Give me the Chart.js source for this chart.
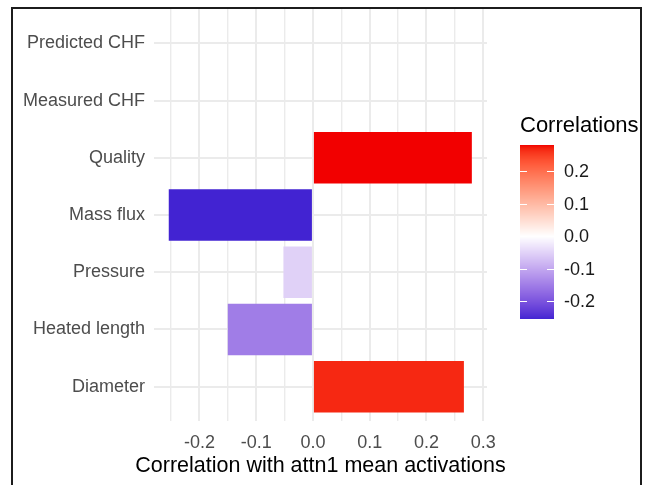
<!DOCTYPE html>
<html>
<head>
<meta charset="utf-8">
<script src="https://cdn.jsdelivr.net/npm/chart.js@4.4.1/dist/chart.umd.min.js"></script>
<style>
  html, body { margin: 0; padding: 0; background: #ffffff; overflow: hidden; }
  #wrap { position: relative; width: 647px; height: 485px; }
  #frame { position: absolute; left: 11px; top: 7px; width: 627px; height: 520px;
           border-left: 2px solid #1c1c1c; border-top: 2px solid #1c1c1c; border-right: 2px solid #1c1c1c; pointer-events: none; }
  canvas { position: absolute; left: 0; top: 0; }
</style>
</head>
<body>
<div id="wrap">
  <canvas id="c" width="647" height="485"></canvas>
  <div id="frame"></div>
</div>
<script>
// ---- data ----
const categories = ['Predicted CHF', 'Measured CHF', 'Quality', 'Mass flux', 'Pressure', 'Heated length', 'Diameter'];
const correlations = [null, null, 0.280, -0.254, -0.052, -0.150, 0.266];
const xTickValues = [-0.2, -0.1, 0.0, 0.1, 0.2, 0.3];
const xMinorValues = [-0.25, -0.15, -0.05, 0.05, 0.15, 0.25];
const legendTickValues = [0.2, 0.1, 0.0, -0.1, -0.2];
const legendTitle = 'Correlations';
const xAxisTitle = 'Correlation with attn1 mean activations';

// ---- colour scale (ggplot gradient2, Lab interpolation) ----
const LOW = '#0000CD', MID = '#FFFFFF', HIGH = '#F20000';
function hexToRgb(h) { h = h.replace('#', ''); return [0, 2, 4].map(i => parseInt(h.substr(i, 2), 16)); }
function toLin(c) { c /= 255; return c <= 0.04045 ? c / 12.92 : Math.pow((c + 0.055) / 1.055, 2.4); }
function fromLin(c) { c = c <= 0.0031308 ? 12.92 * c : 1.055 * Math.pow(c, 1 / 2.4) - 0.055; return Math.max(0, Math.min(255, Math.round(c * 255))); }
const WX = 0.95047, WY = 1.0, WZ = 1.08883;
function f(t) { return t > 0.008856 ? Math.cbrt(t) : 7.787 * t + 16 / 116; }
function finv(t) { return t > 0.206893 ? t * t * t : (t - 16 / 116) / 7.787; }
function rgbToLab(rgb) {
  const [r, g, b] = rgb.map(toLin);
  const x = (0.4124 * r + 0.3576 * g + 0.1805 * b) / WX;
  const y = (0.2126 * r + 0.7152 * g + 0.0722 * b) / WY;
  const z = (0.0193 * r + 0.1192 * g + 0.9505 * b) / WZ;
  const fx = f(x), fy = f(y), fz = f(z);
  return [116 * fy - 16, 500 * (fx - fy), 200 * (fy - fz)];
}
function labToRgb(lab) {
  const fy = (lab[0] + 16) / 116, fx = fy + lab[1] / 500, fz = fy - lab[2] / 200;
  const x = finv(fx) * WX, y = finv(fy) * WY, z = finv(fz) * WZ;
  const r = 3.2406 * x - 1.5372 * y - 0.4986 * z;
  const g = -0.9689 * x + 1.8758 * y + 0.0415 * z;
  const b = 0.0557 * x - 0.2040 * y + 1.0570 * z;
  return [fromLin(r), fromLin(g), fromLin(b)];
}
const labLow = rgbToLab(hexToRgb(LOW)), labMid = rgbToLab(hexToRgb(MID)), labHigh = rgbToLab(hexToRgb(HIGH));
const validVals = correlations.filter(v => v !== null);
const maxAbs = Math.max(...validVals.map(Math.abs));
function colorFor(v) {
  if (v === null || v === undefined) return 'rgba(0,0,0,0)';
  let t = Math.max(-1, Math.min(1, v / maxAbs));
  const end = t >= 0 ? labHigh : labLow;
  t = Math.abs(t);
  const lab = [0, 1, 2].map(i => labMid[i] + (end[i] - labMid[i]) * t);
  const c = labToRgb(lab);
  return 'rgb(' + c.join(',') + ')';
}

// ---- category scale with ggplot-style 0.6 expansion ----
class PaddedCategoryScale extends Chart.CategoryScale {
  configure() {
    super.configure();
    const pad = 0.6;
    this._startValue = this.min - pad;
    this._valueRange = (this.max - this.min) + 2 * pad;
  }
}
PaddedCategoryScale.id = 'paddedCategory';
PaddedCategoryScale.defaults = Chart.CategoryScale.defaults;
Chart.register(PaddedCategoryScale);

const FONT = '"Liberation Sans", Arial, sans-serif';
const GRID = '#EBEBEB';
const CHART_LEFT = 154, CHART_RIGHT = 487, CHART_TOP = 9, CHART_BOTTOM = 421;

// ---- colourbar legend + axis title plugin ----
const colorbarPlugin = {
  id: 'colorbar',
  afterDraw(chart) {
    const ctx = chart.ctx;
    const x0 = 520, w = 34, yTop = 145, yBot = 319;
    const vTop = Math.max(...validVals), vBot = Math.min(...validVals);
    const pix = v => yTop + (vTop - v) / (vTop - vBot) * (yBot - yTop);
    ctx.save();
    for (let y = yTop; y < yBot; y++) {
      const v = vTop - (y + 0.5 - yTop) / (yBot - yTop) * (vTop - vBot);
      ctx.fillStyle = colorFor(v);
      ctx.fillRect(x0, y, w, 1);
    }
    ctx.strokeStyle = '#ffffff';
    ctx.lineWidth = 1;
    ctx.font = '18px ' + FONT;
    ctx.fillStyle = '#1a1a1a';
    ctx.textBaseline = 'middle';
    ctx.textAlign = 'left';
    legendTickValues.forEach(v => {
      const y = Math.round(pix(v)) + 0.5;
      ctx.beginPath();
      ctx.moveTo(x0, y); ctx.lineTo(x0 + 7, y);
      ctx.moveTo(x0 + w - 7, y); ctx.lineTo(x0 + w, y);
      ctx.stroke();
      ctx.fillText(v.toFixed(1), 564, pix(v) + 1);
    });
    ctx.font = '22px ' + FONT;
    ctx.fillStyle = '#000000';
    ctx.fillText(legendTitle, 520, 126);
    // x-axis title, centred on the panel (allowed to be wider than the panel)
    const xs = chart.scales.x;
    ctx.font = '21.5px ' + FONT;
    ctx.textAlign = 'center';
    ctx.fillText(xAxisTitle, (xs.left + xs.right) / 2, 466);
    ctx.restore();
  }
};

new Chart(document.getElementById('c'), {
  type: 'bar',
  data: {
    labels: categories,
    datasets: [{
      data: correlations,
      backgroundColor: ctx => colorFor(ctx.raw),
      borderWidth: 0,
      barPercentage: 0.9,
      categoryPercentage: 1.0
    }]
  },
  options: {
    indexAxis: 'y',
    responsive: false,
    animation: false,
    devicePixelRatio: 1,
    layout: { padding: { left: 0, top: CHART_TOP, right: 647 - CHART_RIGHT, bottom: 0 } },
    plugins: { legend: { display: false }, tooltip: { enabled: false } },
    scales: {
      x: {
        type: 'linear',
        min: -0.28,
        max: 0.3067,
        afterBuildTicks: scale => {
          scale.ticks = xTickValues.concat(xMinorValues).sort((a, b) => a - b).map(v => ({ value: v }));
        },
        afterFit: scale => {
          scale.height = 485 - CHART_BOTTOM;
          scale.paddingLeft = 0; scale.paddingRight = 0;
        },
        ticks: {
          autoSkip: false,
          maxRotation: 0,
          padding: 11,
          color: '#4D4D4D',
          font: { family: FONT, size: 18 },
          callback: v => xTickValues.some(t => Math.abs(t - v) < 1e-9) ? v.toFixed(1) : ''
        },
        grid: {
          color: GRID,
          lineWidth: ctx => (ctx.tick && xTickValues.some(t => Math.abs(t - ctx.tick.value) < 1e-9)) ? 2 : 1.4,
          drawTicks: false
        },
        border: { display: false },
        title: { display: false }
      },
      y: {
        type: 'paddedCategory',
        offset: false,
        afterFit: scale => {
          scale.width = CHART_LEFT;
          scale.paddingTop = 0; scale.paddingBottom = 0;
        },
        ticks: {
          autoSkip: false,
          padding: 9,
          color: '#4D4D4D',
          font: { family: FONT, size: 18 }
        },
        grid: { color: GRID, lineWidth: 2, drawTicks: false, offset: false },
        border: { display: false }
      }
    }
  },
  plugins: [colorbarPlugin]
});
</script>
</body>
</html>
